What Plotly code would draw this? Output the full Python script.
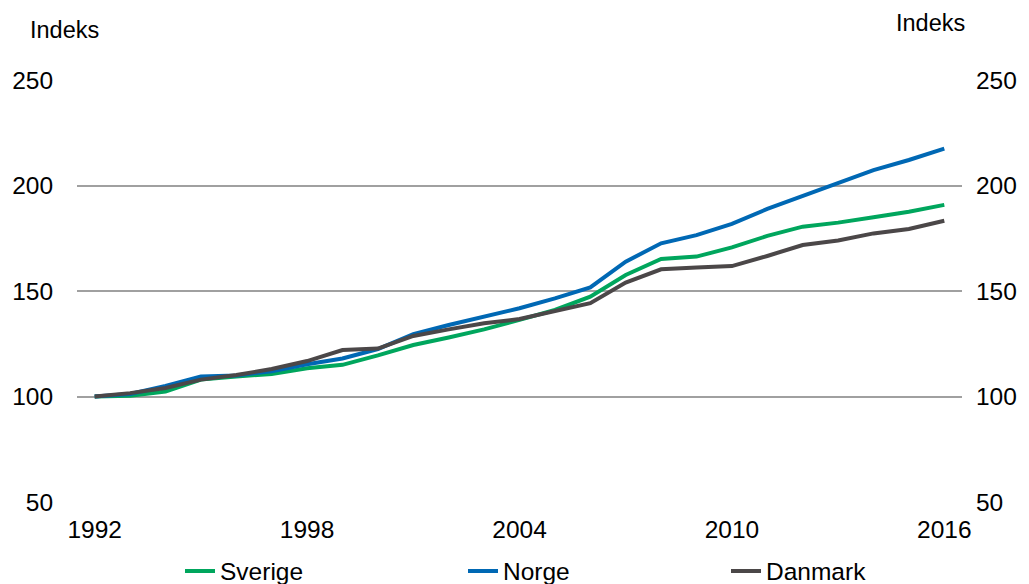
import plotly.graph_objects as go

years = list(range(1992, 2017))
sverige = [100, 100.3, 102.4, 108, 109.5, 110.7, 113.4, 115, 119.5, 124.4, 128, 131.8, 136.3, 141, 147.3, 157.6, 165.2, 166.3, 170.7, 176.1, 180.5, 182.4, 185, 187.6, 190.8]
norge = [100, 101.2, 105, 109.5, 110, 112, 115.3, 118, 122.5, 129.6, 133.9, 137.8, 141.8, 146.5, 151.7, 163.9, 172.6, 176.5, 181.8, 188.9, 195, 201, 207.3, 212.1, 217.5]
danmark = [100, 101.6, 104, 108, 110.2, 113, 116.8, 122, 122.7, 128.7, 131.8, 134.7, 136.7, 140.3, 144.2, 154, 160.3, 161.1, 161.8, 166.6, 171.8, 173.9, 177.3, 179.4, 183.3]
series_names = ["Sverige", "Norge", "Danmark"]
colors = ["#00A65D", "#0068B4", "#4B4748"]
x_ticks = [1992, 1998, 2004, 2010, 2016]
y_ticks = [50, 100, 150, 200, 250]

FONT = "Liberation Sans, Arial, sans-serif"
FS = 24.5

W, H = 1029, 584
ML, MR, MT, MB = 77, 67, 80, 82
PW, PH = W - ML - MR, H - MT - MB

def px_x(p):
    return (p - ML) / PW

def px_y(p):
    return (H - MB - p) / PH

legend_ids = ["legend", "legend2", "legend3"]
legend_left_px = [180, 463, 726]

fig = go.Figure()
for name, vals, col, lid in zip(series_names, [sverige, norge, danmark], colors, legend_ids):
    fig.add_trace(go.Scatter(x=years, y=vals, name=name, mode="lines",
                             line=dict(color=col, width=4), legend=lid))
# invisible trace to activate right axis
fig.add_trace(go.Scatter(x=years, y=danmark, yaxis="y2", mode="lines",
                         line=dict(width=0), showlegend=False, hoverinfo="skip",
                         opacity=0))

legend_common = dict(orientation="h", xanchor="left", yanchor="middle",
                     font=dict(size=FS), bgcolor="rgba(0,0,0,0)")
layout_legends = {}
for lid, lx in zip(legend_ids, legend_left_px):
    layout_legends[lid] = dict(legend_common, x=px_x(lx), y=px_y(571))

fig.update_layout(
    width=W, height=H,
    margin=dict(l=ML, r=MR, t=MT, b=MB, autoexpand=False),
    plot_bgcolor="white", paper_bgcolor="white",
    font=dict(family=FONT, size=FS, color="black"),
    xaxis=dict(range=[1991.5, 2016.5], tickvals=x_ticks, showgrid=False,
               zeroline=False, showline=False, ticks="outside", ticklen=6,
               tickcolor="rgba(0,0,0,0)"),
    yaxis=dict(range=[50, 250], tickvals=y_ticks, showgrid=True,
               gridcolor="#A0A0A0", gridwidth=1.5, zeroline=False,
               showline=False, ticks="outside", ticklen=18,
               tickcolor="rgba(0,0,0,0)"),
    yaxis2=dict(range=[50, 250], tickvals=y_ticks, overlaying="y", side="right",
                showgrid=False, zeroline=False, showline=False,
                ticks="outside", ticklen=8, tickcolor="rgba(0,0,0,0)"),
    annotations=[
        dict(text="Indeks", xref="paper", yref="paper", x=px_x(28), y=px_y(30),
             xanchor="left", yanchor="middle", showarrow=False, font=dict(size=FS - 1)),
        dict(text="Indeks", xref="paper", yref="paper", x=px_x(967), y=px_y(23),
             xanchor="right", yanchor="middle", showarrow=False, font=dict(size=FS - 1)),
    ],
    **layout_legends,
)

fig.write_html("out.html", config={"displayModeBar": False},
               post_script="document.body.style.margin='0px';document.body.style.overflow='hidden';")
